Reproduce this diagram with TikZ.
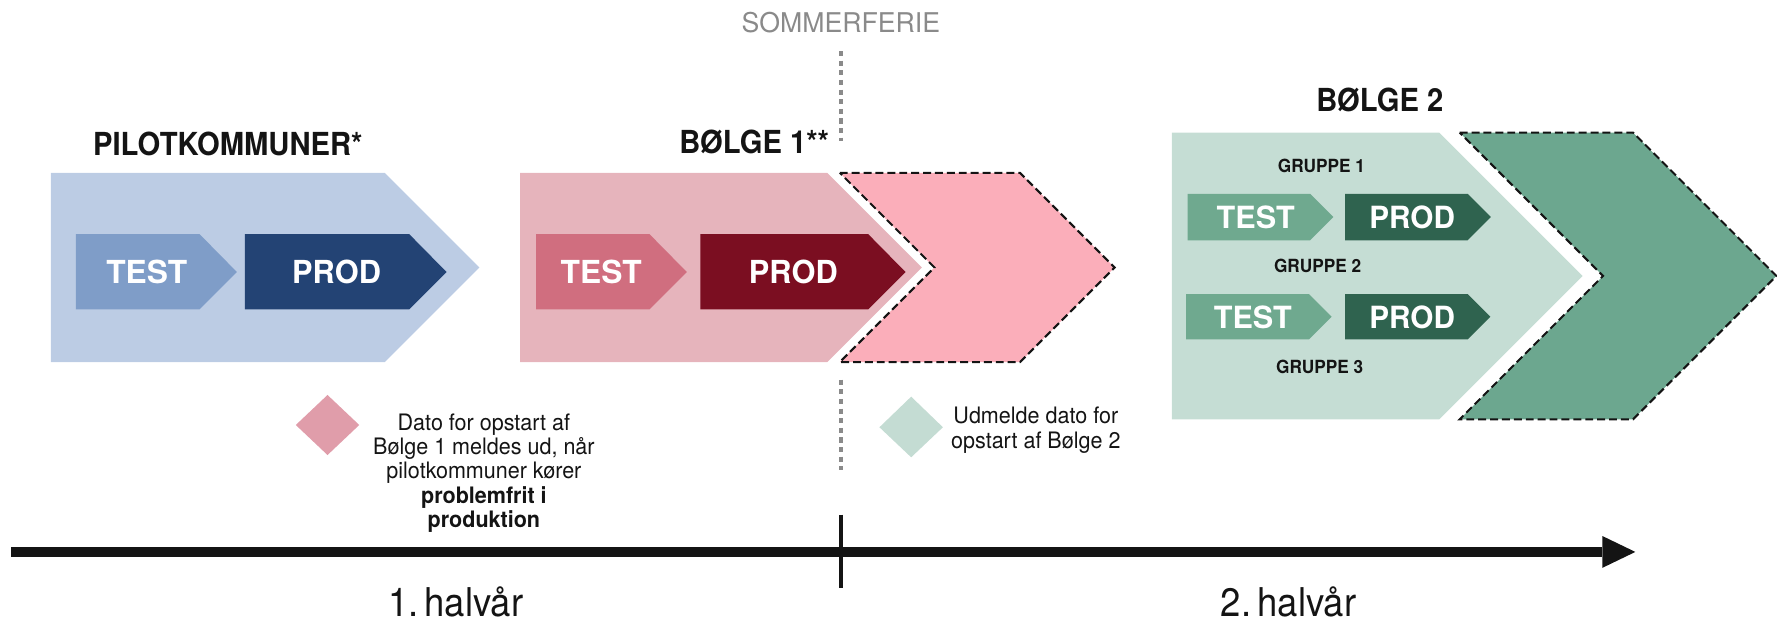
\documentclass[tikz,border=0pt]{standalone}
\usepackage{fontspec}
\setmainfont{TeX Gyre Heros}
\usepackage{graphicx}
\usetikzlibrary{arrows.meta}
\definecolor{ink}{HTML}{141414}
\definecolor{bluebig}{HTML}{BCCCE4}
\definecolor{bluetest}{HTML}{7F9DC8}
\definecolor{blueprod}{HTML}{234374}
\definecolor{pinkbig}{HTML}{E6B4BC}
\definecolor{pinktest}{HTML}{D06E7F}
\definecolor{pinkprod}{HTML}{7B0E21}
\definecolor{pinkdash}{HTML}{FBAEBA}
\definecolor{greenbig}{HTML}{C5DDD4}
\definecolor{greendash}{HTML}{6CA78F}
\definecolor{greentest}{HTML}{6FA98F}
\definecolor{greenprod}{HTML}{2F634F}
\definecolor{pinkdia}{HTML}{E09DAA}
\definecolor{greendia}{HTML}{C4DCD3}
\definecolor{grayt}{HTML}{8A8A8A}
\newcommand\hsq[2]{\scalebox{#1}[1]{#2}}
\begin{document}
\begin{tikzpicture}[x=1pt,y=-1pt,
  every node/.style={inner sep=0pt,outer sep=0pt},
  title/.style={font=\fontsize{28}{30}\selectfont\bfseries,text=ink,anchor=base},
  boxtxt/.style={font=\fontsize{28}{30}\selectfont\bfseries,text=white,anchor=base},
  gboxtxt/.style={font=\fontsize{27}{29}\selectfont\bfseries,text=white,anchor=base},
  grp/.style={font=\fontsize{16}{18}\selectfont\bfseries,text=ink,anchor=base},
  note/.style={font=\fontsize{20}{21.5}\selectfont,text=ink,align=center,anchor=base},
  half/.style={font=\fontsize{35}{38}\selectfont,text=ink,anchor=base},
  dashshape/.style={draw=ink,line width=1.8pt,dash pattern=on 7pt off 3.5pt,line join=miter},
  dotline/.style={draw=grayt,line width=3.5pt,dash pattern=on 4.5pt off 4pt},
  axisline/.style={draw=ink,line width=9.5pt,-{Triangle[length=29pt,width=28pt,line width=0pt]}}
]
\useasboundingbox (0,0) rectangle (1568,550);

% ---- Pilotkommuner (blue)
\fill[bluebig] (45,152.5) -- (339.5,152.5) -- (423,236) -- (339.5,319.5) -- (45,319.5) -- cycle;
\fill[bluetest] (67,206.5) -- (176,206.5) -- (209,240) -- (176,273) -- (67,273) -- cycle;
\fill[blueprod] (216,206.5) -- (361,206.5) -- (394,240) -- (361,273) -- (216,273) -- cycle;
\node[title] (tPilot) at (201,137) {\hsq{0.92}{PILOTKOMMUNER*}};
\node[boxtxt] (bTest) at (129.5,250.5) {TEST};
\node[boxtxt] (bProd) at (297,250.5) {\hsq{0.97}{PROD}};

% ---- Boelge 1 (pink)
\fill[pinkbig] (459,152.5) -- (730,152.5) -- (813.5,236) -- (730,319.5) -- (459,319.5) -- cycle;
\fill[pinktest] (473,206.5) -- (573,206.5) -- (606,240) -- (573,273) -- (473,273) -- cycle;
\fill[pinkprod] (618,206.5) -- (766,206.5) -- (799,240) -- (766,273) -- (618,273) -- cycle;
\path[fill=pinkdash,dashshape] (741,152.5) -- (900,152.5) -- (983.5,236) -- (900,319.5) -- (741,319.5) -- (824.5,236) -- cycle;
\node[title] (tB1) at (665.5,135.5) {\hsq{0.92}{BØLGE 1**}};
\node[boxtxt] (pTest) at (530.5,250.5) {TEST};
\node[boxtxt] (pProd) at (700,250.5) {\hsq{0.97}{PROD}};

% ---- Boelge 2 (green)
\fill[greenbig] (1034,117) -- (1270,117) -- (1396.5,243.5) -- (1270,370) -- (1034,370) -- cycle;
\path[fill=greendash,dashshape] (1288,117) -- (1441,117) -- (1567.5,243.5) -- (1441,370) -- (1288,370) -- (1414.5,243.5) -- cycle;
\fill[greentest] (1048,171) -- (1156,171) -- (1176.5,191.5) -- (1156,212) -- (1048,212) -- cycle;
\fill[greenprod] (1187,171) -- (1295,171) -- (1315.5,191.5) -- (1295,212) -- (1187,212) -- cycle;
\fill[greentest] (1046.5,259.5) -- (1155,259.5) -- (1175,279.5) -- (1155,299.5) -- (1046.5,299.5) -- cycle;
\fill[greenprod] (1187,259.5) -- (1295,259.5) -- (1315,279.5) -- (1295,299.5) -- (1187,299.5) -- cycle;
\node[title] (tB2) at (1217.5,98.5) {\hsq{0.92}{BØLGE 2}};
\node[grp] (g1) at (1166,152.3) {\hsq{0.95}{GRUPPE 1}};
\node[grp] (g2) at (1162.6,240.5) {\hsq{0.95}{GRUPPE 2}};
\node[grp] (g3) at (1164.4,330) {\hsq{0.95}{GRUPPE 3}};
\node[gboxtxt] (gTest1) at (1108,201.5) {TEST};
\node[gboxtxt] (gProd1) at (1246,201.5) {\hsq{0.97}{PROD}};
\node[gboxtxt] (gTest2) at (1105.5,290) {TEST};
\node[gboxtxt] (gProd2) at (1246,290) {\hsq{0.97}{PROD}};

% ---- Sommerferie
\node[font=\fontsize{24}{26}\selectfont,text=grayt,anchor=base] (som) at (742,29) {\hsq{0.98}{SOMMERFERIE}};
\coordinate (d1a) at (742,45);
\coordinate (d1b) at (742,124);
\coordinate (d2a) at (742,335);
\coordinate (d2b) at (742,415);
\draw[dotline] (d1a) -- (d1b);
\draw[dotline] (d2a) -- (d2b);

% ---- milestones
\fill[pinkdia] (261,375) -- (289,348.5) -- (317,375) -- (289,401.5) -- cycle;
\fill[greendia] (776,377) -- (804,350) -- (832,377) -- (804,403.5) -- cycle;
\node[note] (n1) at (427,465.5) {\hsq{0.95}{Dato for opstart af}\\\hsq{0.95}{Bølge 1 meldes ud, når}\\\hsq{0.95}{pilotkommuner kører}\\\hsq{0.95}{\bfseries problemfrit i}\\\hsq{0.95}{\bfseries produktion}};
\node[note] (n2) at (914,395.5) {\hsq{0.95}{Udmelde dato for}\\\hsq{0.95}{opstart af Bølge 2}};

% ---- time axis
\coordinate (axL) at (10,487);
\coordinate (axR) at (1443,487);
\draw[axisline] (axL) -- (axR);
\coordinate (tkA) at (742,454);
\coordinate (tkB) at (742,519);
\draw[ink,line width=3pt] (tkA) -- (tkB);
\node[half] (h1) at (402,544) {\hsq{0.92}{1.\,halvår}};
\node[half] (h2) at (1137,544) {\hsq{0.92}{2.\,halvår}};
\end{tikzpicture}
\end{document}
